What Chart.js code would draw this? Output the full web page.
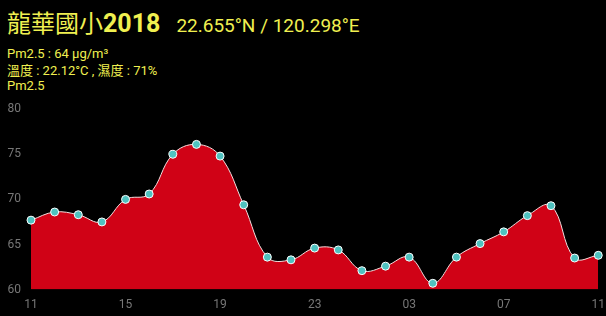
<!DOCTYPE html>
<html>
<head>
<meta charset="utf-8">
<script src="https://cdn.jsdelivr.net/npm/chart.js@4"></script>
<style>
  html, body { margin: 0; padding: 0; background: #000; overflow: hidden; }
  body { width: 606px; height: 316px; position: relative; font-family: Roboto, "Noto Sans CJK TC", sans-serif; color: #f0f050; }
  .title { position: absolute; left: 7px; top: 4px; white-space: nowrap; }
  .title .name { font-size: 24px; }
  .title .year { font-size: 25px; font-weight: bold; }
  .title .geo { font-size: 19px; margin-left: 16px; }
  .info { position: absolute; left: 7px; font-size: 13px; line-height: 15px; white-space: nowrap; }
  #wrap { position: absolute; left: 0; top: 92px; width: 613px; height: 228px; }
</style>
</head>
<body>
<div class="title"><span class="name">龍華國小</span><span class="year">2018</span><span class="geo">22.655°N / 120.298°E</span></div>
<div class="info" style="top:46px">Pm2.5 : 64 μg/m³</div>
<div class="info" style="top:63px">溫度 : 22.12°C , 濕度 : 71%</div>
<div class="info" style="top:78px">Pm2.5</div>
<div id="wrap"><canvas id="chart"></canvas></div>
<script>
const hours = ["11","12","13","14","15","16","17","18","19","20","21","22","23",
  "00","01","02","03","04","05","06","07","08","09","10","11"];
const pm25 = [67.7, 68.6, 68.3, 67.5, 70.0, 70.6, 75.0, 76.1, 74.8, 69.4, 63.6, 63.3, 64.6,
  64.4, 62.1, 62.6, 63.6, 60.7, 63.6, 65.1, 66.4, 68.2, 69.3, 63.5, 63.8];
const yTicks = [60, 65, 70, 75, 80];

document.addEventListener("DOMContentLoaded", function () {
  const ctx = document.getElementById('chart').getContext('2d');
  new Chart(ctx, {
    type: 'line',
    data: {
      labels: hours,
      datasets: [{
        label: 'Pm2.5',
        data: pm25,
        fill: 'start',
        backgroundColor: 'rgb(208,2,22)',
        borderColor: '#f4dede',
        borderWidth: 1,
        tension: 0.4,
        pointRadius: 4,
        pointBackgroundColor: '#4fc2c0',
        pointBorderColor: '#ffffff',
        pointBorderWidth: 1
      }]
    },
    options: {
      responsive: true,
      maintainAspectRatio: false,
      animation: false,
      plugins: { legend: { display: false }, tooltip: { enabled: false } },
      scales: {
        x: {
          grid: { display: false, drawTicks: false },
          border: { display: false },
          ticks: {
            autoSkip: false,
            maxRotation: 0,
            padding: 8,
            color: '#777',
            font: { family: '"Liberation Sans Narrow", Roboto, sans-serif', size: 12 },
            callback: function (v, i) { return i % 4 === 0 ? hours[i] : ''; }
          }
        },
        y: {
          min: 60,
          max: 80,
          grid: { display: false, drawTicks: false },
          border: { display: false },
          afterBuildTicks: function (axis) { axis.ticks = yTicks.map(v => ({ value: v })); },
          afterFit: function (axis) { axis.width = 31; },
          ticks: {
            color: '#777',
            padding: 10,
            font: { family: '"Liberation Sans Narrow", Roboto, sans-serif', size: 12 }
          }
        }
      }
    }
  });
});
</script>
</body>
</html>
